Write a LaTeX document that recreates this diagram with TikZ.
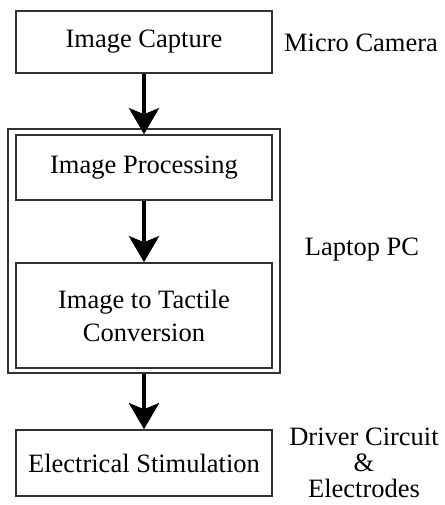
\documentclass[tikz,border=0pt]{standalone}
\usepackage{fontspec}
\setmainfont{Liberation Serif}
\usetikzlibrary{arrows.meta}
\begin{document}
\begin{tikzpicture}[x=1pt,y=-1pt,
  box/.style={draw=black!80,line width=1.6pt,minimum width=256pt,inner sep=0pt,align=center,font=\fontsize{26.5}{33}\selectfont},
  lbl/.style={align=center,inner sep=0pt,font=\fontsize{26.5}{26}\selectfont},
  flow/.style={line width=4.5pt,-{Stealth[length=26pt,width=30pt,inset=6pt]}}]
\useasboundingbox (0,0) rectangle (444,505);
\node[draw=black!80,line width=1.6pt,minimum width=272pt,minimum height=244pt,inner sep=0pt] (pc) at (144,251) {};
\node[box,minimum height=62pt] (cap) at (144,42) {Image Capture};
\node[box,minimum height=65pt] (proc) at (144,167.5) {Image Processing};
\node[box,minimum height=105pt] (conv) at (144,315.5) {Image to Tactile\\Conversion};
\node[box,minimum height=66pt] (stim) at (144,463) {Electrical Stimulation};
\node[lbl] (cam) at (361,43) {Micro Camera};
\node[lbl] (lap) at (362,250) {Laptop PC};
\node[lbl] (drv) at (364,463) {Driver Circuit\\\&\\Electrodes};
\draw[flow] (cap.south) -- (proc.north);
\draw[flow] (proc.south) -- (conv.north);
\draw[flow] (pc.south) -- (stim.north);
\end{tikzpicture}
\end{document}
